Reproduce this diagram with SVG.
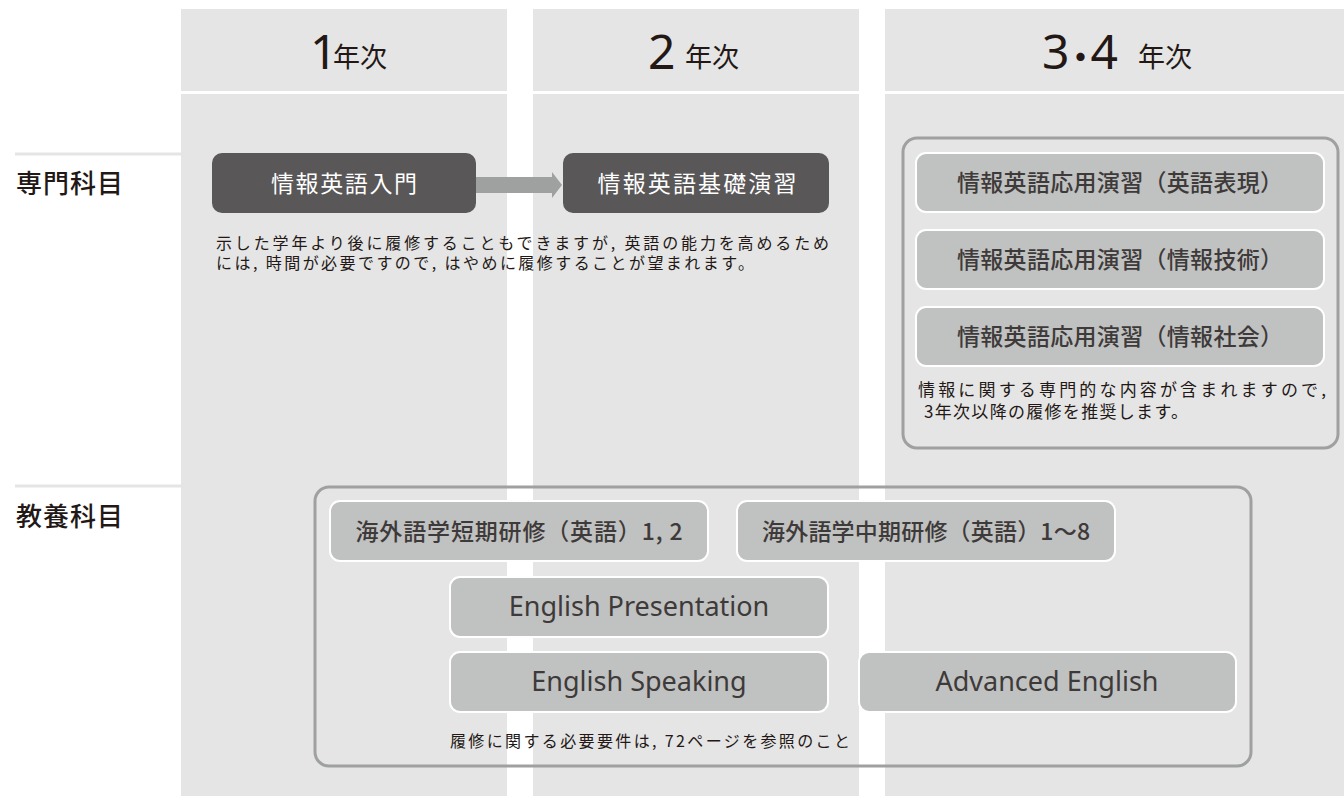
<svg xmlns="http://www.w3.org/2000/svg" width="1344" height="796" viewBox="0 0 1344 796">
<style>
.col{fill:#e5e5e5}
.jp{font-family:"Noto Sans CJK JP","Noto Sans",sans-serif}
.num{font-family:"Noto Sans","Noto Sans CJK JP",sans-serif;font-size:48px;fill:#231815}
.yr{font-size:27px;fill:#231815}
.lbl{font-size:26px;fill:#231815;font-weight:500;letter-spacing:1px}
.dark{fill:#595757}
.dt{font-size:23px;fill:#ffffff;text-anchor:middle}
.lt{fill:#c0c1c1;stroke:#ffffff;stroke-width:2}
.ltx{font-size:23px;fill:#3e3a39;text-anchor:middle;font-weight:500}
.en{font-family:"Noto Sans","Open Sans",sans-serif;font-size:27px;fill:#3e3a39;text-anchor:middle}
.grp{fill:none;stroke:#9fa0a0;stroke-width:3}
.note{font-size:17px;fill:#231815}
.rule{stroke:#e5e5e5;stroke-width:3}
</style>
<rect width="1344" height="796" fill="#ffffff"/>
<g id="columns">
<rect class="col" x="181" y="9" width="326" height="82"/>
<rect class="col" x="181" y="94" width="326" height="702"/>
<rect class="col" x="533" y="9" width="326" height="82"/>
<rect class="col" x="533" y="94" width="326" height="702"/>
<rect class="col" x="885" y="9" width="459" height="82"/>
<rect class="col" x="885" y="94" width="459" height="702"/>
</g>
<g id="headers">
<text class="num" x="310" y="69">1</text><text class="jp yr" x="333" y="67">年次</text>
<text class="num" x="648" y="69">2</text><text class="jp yr" x="685" y="67">年次</text>
<text class="num" x="1042" y="69">3<tspan class="jp" dx="-5" style="font-size:32px;font-weight:700">・</tspan><tspan dx="-6">4</tspan></text><text class="jp yr" x="1138" y="67">年次</text>
</g>
<g id="row-labels">
<line class="rule" x1="15" y1="154" x2="181" y2="154"/>
<text class="jp lbl" x="16" y="193">専門科目</text>
<line class="rule" x1="15" y1="486" x2="181" y2="486"/>
<text class="jp lbl" x="16" y="526">教養科目</text>
</g>
<g id="connectors">
<polygon points="476,177 552,177 552,172 562,185 552,198 552,193 476,193" fill="#9fa0a0"/>
</g>
<g id="n-intro">
<rect class="dark" x="212" y="153" width="264" height="60" rx="10"/>
<text class="jp dt" x="344" y="192" textLength="146" lengthAdjust="spacing">情報英語入門</text>
</g>
<g id="n-basic">
<rect class="dark" x="563" y="153" width="266" height="60" rx="10"/>
<text class="jp dt" x="697" y="192" textLength="199" lengthAdjust="spacing">情報英語基礎演習</text>
</g>
<g id="note-1">
<text class="jp note" x="216" y="249" style="font-size:16px" textLength="613" lengthAdjust="spacing">示した学年より後に履修することもできますが, 英語の能力を高めるため</text>
<text class="jp note" x="216" y="269" style="font-size:16px" textLength="538" lengthAdjust="spacing">には, 時間が必要ですので, はやめに履修することが望まれます。</text>
</g>
<g id="g-advanced">
<rect class="grp" x="903" y="138" width="435" height="310" rx="14"/>
</g>
<g id="n-adv1">
<rect class="lt" x="916" y="153" width="408" height="59" rx="10"/>
<text class="jp ltx" x="1120" y="191" textLength="326" lengthAdjust="spacing">情報英語応用演習（英語表現）</text>
</g>
<g id="n-adv2">
<rect class="lt" x="916" y="230" width="408" height="59" rx="10"/>
<text class="jp ltx" x="1120" y="268" textLength="326" lengthAdjust="spacing">情報英語応用演習（情報技術）</text>
</g>
<g id="n-adv3">
<rect class="lt" x="916" y="307" width="408" height="59" rx="10"/>
<text class="jp ltx" x="1120" y="345" textLength="326" lengthAdjust="spacing">情報英語応用演習（情報社会）</text>
</g>
<g id="note-2">
<text class="jp note" x="918" y="396" textLength="408" lengthAdjust="spacing">情報に関する専門的な内容が含まれますので,</text>
<text class="jp note" x="924" y="418" textLength="264" lengthAdjust="spacing">3年次以降の履修を推奨します。</text>
</g>
<g id="g-liberal">
<rect class="grp" x="315" y="487" width="936" height="279" rx="14"/>
</g>
<g id="n-short">
<rect class="lt" x="330" y="501" width="378" height="60" rx="10"/>
<text class="jp ltx" x="519" y="540" textLength="327" lengthAdjust="spacing">海外語学短期研修（英語）1, 2</text>
</g>
<g id="n-mid">
<rect class="lt" x="737" y="501" width="378" height="60" rx="10"/>
<text class="jp ltx" x="926" y="540" textLength="328" lengthAdjust="spacing">海外語学中期研修（英語）1〜8</text>
</g>
<g id="n-pres">
<rect class="lt" x="450" y="577" width="378" height="60" rx="10"/>
<text class="en" x="639" y="616">English Presentation</text>
</g>
<g id="n-speak">
<rect class="lt" x="450" y="652" width="378" height="60" rx="10"/>
<text class="en" x="639" y="691">English Speaking</text>
</g>
<g id="n-advanced-en">
<rect class="lt" x="859" y="652" width="377" height="60" rx="10"/>
<text class="en" x="1047" y="691">Advanced English</text>
</g>
<g id="note-3">
<text class="jp note" x="450" y="747" style="font-size:16px" textLength="400" lengthAdjust="spacing">履修に関する必要要件は, 72ページを参照のこと</text>
</g>
</svg>
